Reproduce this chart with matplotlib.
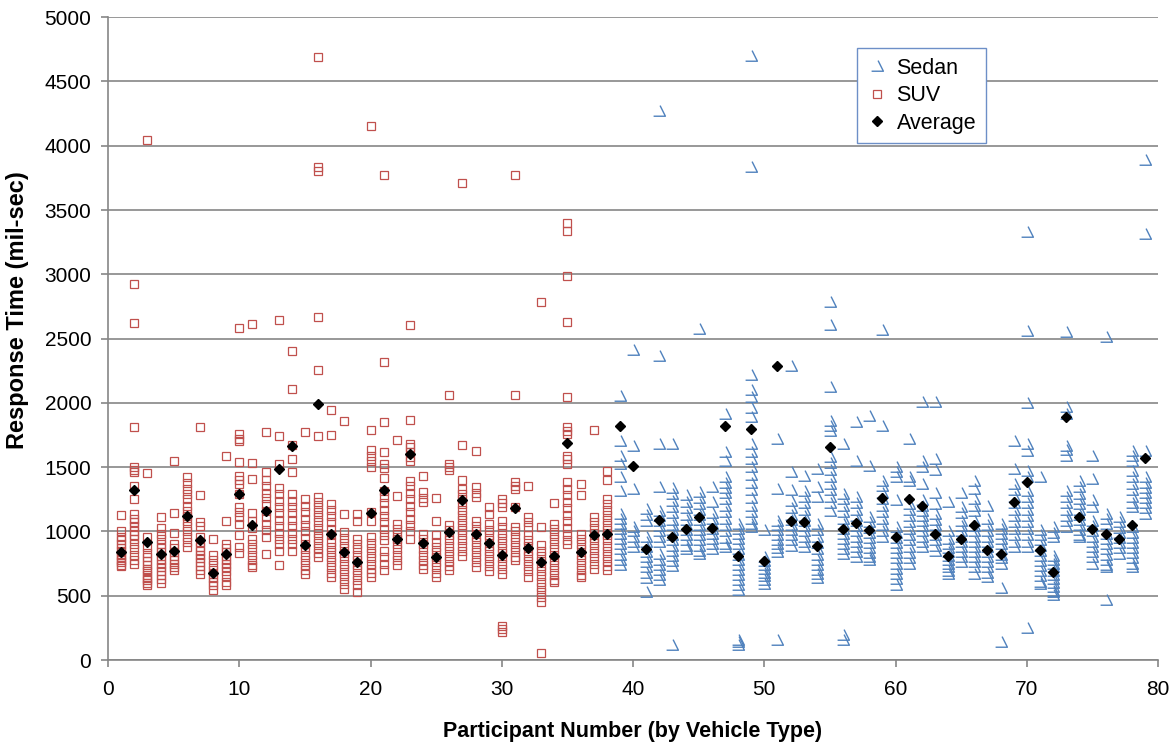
import matplotlib.pyplot as plt
from matplotlib.path import Path
from matplotlib.lines import Line2D

plt.rcParams['font.family'] = ['Liberation Sans', 'DejaVu Sans']

# participants 1-38 drove an SUV, 39-79 a sedan
suv_ids = list(range(1, 39))
sedan_ids = list(range(39, 80))

suv_times = [
    [1130, 1000, 960, 930, 900, 870, 850, 820, 800, 780, 760, 740, 730],
    [2921, 2623, 1816, 1500, 1480, 1460, 1357, 1254, 1137, 1100, 1070, 1040, 1000, 970, 940, 900, 860, 820, 780, 750],
    [4041, 1453, 956, 880, 830, 800, 770, 740, 710, 690, 660, 640, 620, 600, 580],
    [1110, 1030, 980, 940, 900, 870, 840, 810, 780, 750, 720, 690, 660, 630, 600],
    [1552, 1142, 987, 900, 870, 840, 810, 780, 750, 720, 700],
    [1420, 1380, 1330, 1290, 1250, 1200, 1160, 1120, 1080, 1040, 1000, 960, 920, 880],
    [1816, 1287, 1070, 1045, 960, 920, 880, 850, 820, 790, 760, 730, 700, 670],
    [940, 820, 780, 740, 700, 670, 640, 610, 580, 544],
    [1590, 1080, 900, 870, 840, 810, 780, 750, 720, 690, 650, 610, 580],
    [2584, 1760, 1720, 1700, 1540, 1430, 1400, 1370, 1290, 1190, 1150, 1110, 1060, 970, 880, 830],
    [2610, 1530, 1410, 1140, 1080, 1030, 940, 900, 860, 820, 780, 740, 720],
    [1770, 1460, 1400, 1350, 1300, 1260, 1210, 1160, 1110, 1060, 1010, 960, 826],
    [2641, 1746, 1526, 1340, 1290, 1240, 1190, 1140, 1090, 1040, 990, 940, 900, 850, 736],
    [2405, 2110, 1676, 1565, 1461, 1290, 1240, 1190, 1140, 1090, 1040, 990, 940, 900, 850],
    [1770, 1250, 1200, 1150, 1100, 1050, 1000, 950, 900, 860, 820, 780, 740, 700, 670],
    [4689, 3834, 3800, 2667, 2252, 1740, 1270, 1230, 1190, 1150, 1110, 1070, 1030, 990, 950, 910, 870, 830, 800],
    [1945, 1754, 1215, 1170, 1120, 1070, 1020, 970, 920, 880, 840, 800, 760, 720, 680, 645],
    [1862, 1137, 995, 950, 910, 870, 830, 790, 750, 710, 670, 630, 590, 550],
    [1137, 1085, 943, 900, 860, 820, 780, 740, 700, 660, 620, 580, 529],
    [4157, 1793, 1630, 1590, 1550, 1500, 1150, 1085, 956, 910, 870, 830, 790, 750, 710, 680, 645],
    [3776, 2315, 1855, 1616, 1526, 1490, 1414, 1318, 1270, 1220, 1170, 1120, 1070, 1020, 970, 930, 852, 800, 750, 700],
    [1712, 1275, 1060, 1020, 980, 940, 900, 860, 820, 780, 736],
    [2607, 1868, 1681, 1655, 1616, 1580, 1552, 1396, 1350, 1300, 1250, 1200, 1150, 1100, 1050, 1000, 943],
    [1435, 1306, 1260, 1228, 982, 940, 900, 860, 820, 780, 740, 710],
    [1262, 1085, 970, 920, 880, 840, 800, 760, 720, 680, 645],
    [2058, 1526, 1500, 1480, 1047, 1010, 970, 930, 890, 850, 810, 770, 730, 697],
    [3711, 1673, 1402, 1331, 1290, 1250, 1210, 1170, 1130, 1090, 1050, 1010, 970, 930, 890, 850, 813],
    [1624, 1344, 1300, 1267, 1085, 1040, 1000, 960, 920, 880, 840, 800, 760, 723],
    [1194, 1137, 1060, 1010, 970, 930, 890, 850, 810, 770, 730, 690],
    [1254, 1220, 1189, 1085, 1034, 990, 950, 910, 870, 830, 790, 750, 710, 671, 265, 240, 215],
    [3769, 2061, 1383, 1357, 1331, 1189, 1034, 1000, 960, 920, 880, 840, 800, 775],
    [1357, 1111, 1070, 1034, 970, 930, 890, 850, 810, 770, 730, 690, 645],
    [2784, 1034, 891, 850, 810, 770, 730, 690, 650, 610, 570, 530, 490, 453, 52],
    [1220, 1060, 1020, 980, 940, 900, 860, 820, 780, 740, 700, 660, 620, 606],
    [3401, 3334, 2984, 2628, 2045, 1810, 1780, 1759, 1590, 1560, 1526, 1383, 1330, 1280, 1230, 1180, 1130, 1080, 1030, 980, 930, 904],
    [1370, 1280, 982, 940, 900, 860, 820, 780, 740, 700, 660, 645],
    [1790, 1111, 1070, 1030, 990, 950, 910, 870, 830, 790, 750, 710],
    [1474, 1402, 1254, 1210, 1170, 1130, 1090, 1050, 1010, 970, 930, 890, 850, 810, 770, 730, 697],
]

sedan_times = [
    [2057, 1707, 1590, 1526, 1422, 1318, 1137, 1100, 1060, 1020, 980, 940, 900, 860, 820, 780, 740],
    [2410, 1668, 1331, 1034, 1000, 960, 920, 878],
    [1176, 1130, 1085, 956, 920, 880, 840, 800, 760, 720, 680, 640, 531],
    [4267, 2364, 1681, 1344, 1163, 1120, 1085, 1040, 1000, 960, 920, 826, 780, 740, 700, 660, 619],
    [1680, 1340, 1290, 1240, 1190, 1140, 1090, 1050, 1010, 970, 930, 890, 850, 810, 770, 730, 117],
    [1280, 1230, 1180, 1130, 1090, 1050, 1010, 970, 930, 890, 860],
    [2577, 1306, 1260, 1210, 1170, 1130, 1090, 1050, 1010, 970, 930, 890, 850, 826],
    [1344, 1228, 1140, 1100, 1060, 1020, 980, 940, 900, 860],
    [1915, 1616, 1552, 1422, 1380, 1340, 1300, 1250, 1200, 1150, 1100, 1050, 1000, 950, 900, 878],
    [1060, 1020, 980, 940, 900, 860, 820, 780, 740, 700, 660, 620, 580, 542, 155, 140, 117],
    [4694, 3834, 2216, 2100, 2043, 1960, 1888, 1681, 1620, 1560, 1500, 1440, 1380, 1320, 1260, 1200, 1150, 1100, 1060, 1034],
    [1008, 800, 770, 740, 710, 680, 650, 620, 593],
    [1720, 1330, 1085, 1050, 1010, 970, 930, 900, 870, 840, 155],
    [2286, 1461, 1320, 1240, 1180, 1130, 1090, 1050, 1010, 970, 930, 890],
    [1435, 1318, 1270, 1220, 1170, 1120, 1080, 1040, 1000, 960, 920, 878],
    [1487, 1344, 1267, 1060, 1010, 960, 910, 860, 820, 780, 740, 700, 671, 638],
    [2784, 2605, 2123, 1862, 1820, 1785, 1577, 1530, 1480, 1422, 1370, 1320, 1270, 1220, 1163],
    [1681, 1293, 1250, 1200, 1150, 1100, 1060, 1020, 980, 940, 900, 860, 826, 194, 155],
    [1850, 1552, 1267, 1220, 1170, 1120, 1080, 1040, 1000, 960, 920, 880, 840, 800],
    [1901, 1513, 1111, 1070, 1030, 990, 950, 910, 870, 830, 800, 775],
    [2566, 1824, 1396, 1350, 1300, 1250, 1200, 1150, 1100, 1050, 1000, 956],
    [1500, 1460, 1422, 1241, 1034, 990, 950, 910, 870, 830, 790, 750, 710, 670, 630, 583],
    [1720, 1422, 1396, 1215, 1170, 1120, 1070, 1020, 970, 930, 880, 830, 790, 749],
    [2006, 1552, 1500, 1370, 1241, 1200, 1160, 1120, 1080, 1040, 1000, 960, 920, 878],
    [2006, 1565, 1480, 1300, 1215, 1137, 1090, 1050, 1010, 970, 930, 890, 850],
    [1228, 1000, 940, 900, 870, 840, 810, 780, 750, 720, 690, 671],
    [1300, 1189, 1140, 1085, 1040, 1000, 960, 920, 880, 840, 800, 762],
    [1396, 1330, 1254, 1200, 1163, 1085, 1040, 1000, 960, 920, 880, 840, 800, 760, 720, 671],
    [1202, 1098, 1050, 1000, 960, 920, 880, 840, 800, 760, 720, 680, 645],
    [1060, 1020, 980, 940, 900, 860, 820, 790, 749, 557, 143],
    [1707, 1487, 1370, 1320, 1270, 1220, 1170, 1120, 1070, 1020, 970, 920, 878],
    [3328, 2563, 2000, 1681, 1629, 1474, 1422, 1318, 1270, 1220, 1170, 1120, 1070, 1020, 970, 920, 878, 246],
    [1422, 1008, 970, 930, 890, 850, 810, 770, 730, 690, 650, 610, 593],
    [1034, 990, 956, 813, 780, 750, 720, 690, 660, 630, 600, 570, 540, 531, 503],
    [2550, 1966, 1914, 1668, 1630, 1590, 1318, 1270, 1220, 1170, 1120, 1080, 1034],
    [1396, 1344, 1293, 1250, 1210, 1170, 1130, 1090, 1050, 1010, 970, 956],
    [1590, 1409, 1241, 1189, 1085, 1040, 1000, 960, 920, 880, 840, 800, 749],
    [2512, 1137, 1100, 1060, 982, 940, 900, 860, 820, 780, 740, 723, 466],
    [1111, 1070, 1030, 990, 950, 910, 870, 826],
    [1629, 1590, 1552, 1474, 1420, 1370, 1320, 1270, 1220, 1189, 1034, 990, 950, 910, 870, 830, 790, 750, 723],
    [3886, 3315, 1629, 1422, 1380, 1340, 1300, 1260, 1220, 1180, 1137],
]

avg_ids = list(range(1, 80))
avg_times = [842, 1320, 915, 826, 852, 1119, 935, 679, 826, 1293,
             1052, 1158, 1487, 1668, 891, 1992, 977, 839, 759, 1145,
             1324, 943, 1603, 909, 800, 995, 1241, 982, 909, 821,
             1184, 873, 762, 813, 1686, 839, 969, 982,
             1818, 1513, 865, 1093, 956, 1021, 1111, 1028, 1821, 813,
             1798, 767, 2290, 1078, 1072, 889, 1655, 1021, 1065, 1008, 1262, 956,
             1249, 1202, 982, 813, 938, 1047, 858, 826, 1228, 1383,
             858, 684, 1893, 1111, 1021, 982, 943, 1054, 1570]

# excel style "\_" mark used for the sedan series
sedan_mark = Path([(-0.5, -0.4), (0.5, -0.4), (0.05, 0.5)],
                  [Path.MOVETO, Path.LINETO, Path.LINETO])

blue = '#4F81BD'
red = '#C0504D'
grey = '#868686'

fig = plt.figure(figsize=(11.69, 7.45), dpi=100)
ax = fig.add_axes([0.0924, 0.114, 0.8982, 0.863])

sx, sy = [], []
for pid, vals in zip(sedan_ids, sedan_times):
    sx += [pid] * len(vals)
    sy += vals
ax.plot(sx, sy, ls='none', marker=sedan_mark, ms=8.5, mfc='none', mec=blue, mew=1.0)

ux, uy = [], []
for pid, vals in zip(suv_ids, suv_times):
    ux += [pid] * len(vals)
    uy += vals
ax.plot(ux, uy, ls='none', marker='s', ms=6.3, mfc='none', mec=red, mew=0.9)

ax.plot(avg_ids, avg_times, ls='none', marker='D', ms=5.6, color='black', zorder=5)

ax.set_xlim(0, 80)
ax.set_ylim(0, 5000)
ax.set_xticks(range(0, 81, 10))
ax.set_yticks(range(0, 5001, 500))
ax.yaxis.grid(True, color=grey, lw=1.2)
ax.set_axisbelow(True)
for s in ['top', 'right']:
    ax.spines[s].set_visible(False)
for s in ['left', 'bottom']:
    ax.spines[s].set_color(grey)
    ax.spines[s].set_linewidth(1.2)
ax.tick_params(direction='out', length=5, color=grey, width=1.2, labelsize=15)
ax.tick_params(axis='x', pad=9)
ax.tick_params(axis='y', pad=7)

ax.set_xlabel('Participant Number (by Vehicle Type)', fontsize=15.5, fontweight='bold', labelpad=16)
ax.set_ylabel('Response Time (mil-sec)', fontsize=17, fontweight='bold')
ax.yaxis.set_label_coords(-0.075, 0.545)

handles = [
    Line2D([], [], ls='none', marker=sedan_mark, ms=8.5, mfc='none', mec=blue, mew=1.0),
    Line2D([], [], ls='none', marker='s', ms=6.3, mfc='none', mec=red, mew=0.9),
    Line2D([], [], ls='none', marker='D', ms=5.6, color='black'),
]
leg = ax.legend(handles, ['Sedan', 'SUV', 'Average'], loc='upper left',
                bbox_to_anchor=(0.713, 0.952), borderaxespad=0, fontsize=15.5,
                fancybox=False, framealpha=1, edgecolor='#6D8FC7',
                handlelength=1.0, handletextpad=0.4, labelspacing=0.3,
                borderpad=0.45)
leg.get_frame().set_linewidth(1.0)

fig.savefig('out.png', dpi=100)
